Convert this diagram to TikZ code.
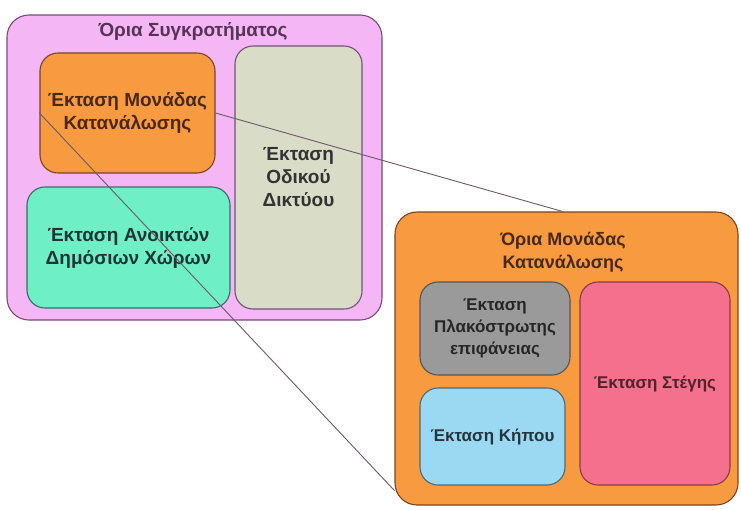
\documentclass[tikz,border=0pt]{standalone}
\usepackage{fontspec}
\setmainfont{Liberation Sans}
\usetikzlibrary{calc}
\definecolor{pinkbg}{HTML}{F4B6F4}
\definecolor{pinkbd}{HTML}{7A4A7A}
\definecolor{orangebg}{HTML}{F89A40}
\definecolor{orangebd}{HTML}{7A4520}
\definecolor{roadbg}{HTML}{D9DCC7}
\definecolor{roadbd}{HTML}{6E557A}
\definecolor{greenbg}{HTML}{6FEFC6}
\definecolor{greenbd}{HTML}{3A6A6A}
\definecolor{greybg}{HTML}{9A9A9A}
\definecolor{greybd}{HTML}{555555}
\definecolor{bluebg}{HTML}{9BD9F3}
\definecolor{bluebd}{HTML}{4A6A7A}
\definecolor{roofbg}{HTML}{F4708C}
\definecolor{roofbd}{HTML}{8A3A4A}
\definecolor{linec}{HTML}{6A5A6A}
\tikzset{
  area/.style={draw, line width=1.1pt, rounded corners=18pt, inner sep=0pt, align=center,
    font=\bfseries\fontsize{19}{23}\selectfont},
  smallarea/.style={area, font=\bfseries\fontsize{17}{22}\selectfont},
  ttl/.style={inner sep=0pt, align=center, font=\bfseries\fontsize{19}{23}\selectfont},
  link/.style={draw=linec, line width=0.9pt}
}
\begin{document}
\begin{tikzpicture}[x=1pt,y=-1pt]
\useasboundingbox (0,0) rectangle (741,509);
% left group
\node[area, fill=pinkbg, draw=pinkbd, minimum width=375pt, minimum height=305pt, rounded corners=22pt] (grp) at (194.5,167.5) {};
\node[ttl, text=pinkbd!70!black] (grpt) at (193,31) {Όρια Συγκροτήματος};
\node[area, fill=orangebg, draw=orangebd, text=orangebd!60!black, minimum width=175pt, minimum height=120pt] (unit) at (127.5,113) {Έκταση Μονάδας\\Κατανάλωσης};
\node[area, fill=roadbg, draw=roadbd, text=black!80, minimum width=127pt, minimum height=263pt] (road) at (298.5,177.5) {Έκταση\\Οδικού\\Δικτύου};
\node[area, fill=greenbg, draw=greenbd, text=greenbd!50!black, minimum width=203pt, minimum height=121pt] (open) at (128.5,247.5) {Έκταση Ανοικτών\\Δημόσιων Χώρων};
% right group
\node[area, fill=orangebg, draw=orangebd, minimum width=343pt, minimum height=293pt, rounded corners=22pt] (ubox) at (566.5,358.5) {};
\node[ttl, text=orangebd!60!black, font=\bfseries\fontsize{18}{23}\selectfont] (uboxt) at (563,252) {Όρια Μονάδας\\Κατανάλωσης};
\node[smallarea, fill=greybg, draw=greybd, text=black!85, minimum width=150pt, minimum height=93pt] (paved) at (495,328.5) {Έκταση\\Πλακόστρωτης\\επιφάνειας};
\node[smallarea, fill=bluebg, draw=bluebd, text=bluebd!50!black, minimum width=145pt, minimum height=97pt] (garden) at (492.5,436.5) {Έκταση Κήπου};
\node[smallarea, fill=roofbg, draw=roofbd, text=roofbd!60!black, minimum width=150pt, minimum height=203pt] (roof) at (655,383.5) {Έκταση Στέγης};
% connectors
\coordinate (zoomend) at ($(ubox.south west)+(0,-15)$);
\coordinate (zoomtop) at ($(ubox.north)+(-4,0)$);
\draw[link] (unit.east) -- (zoomtop);
\draw[link] (unit.west) -- (zoomend);
\end{tikzpicture}
\end{document}
